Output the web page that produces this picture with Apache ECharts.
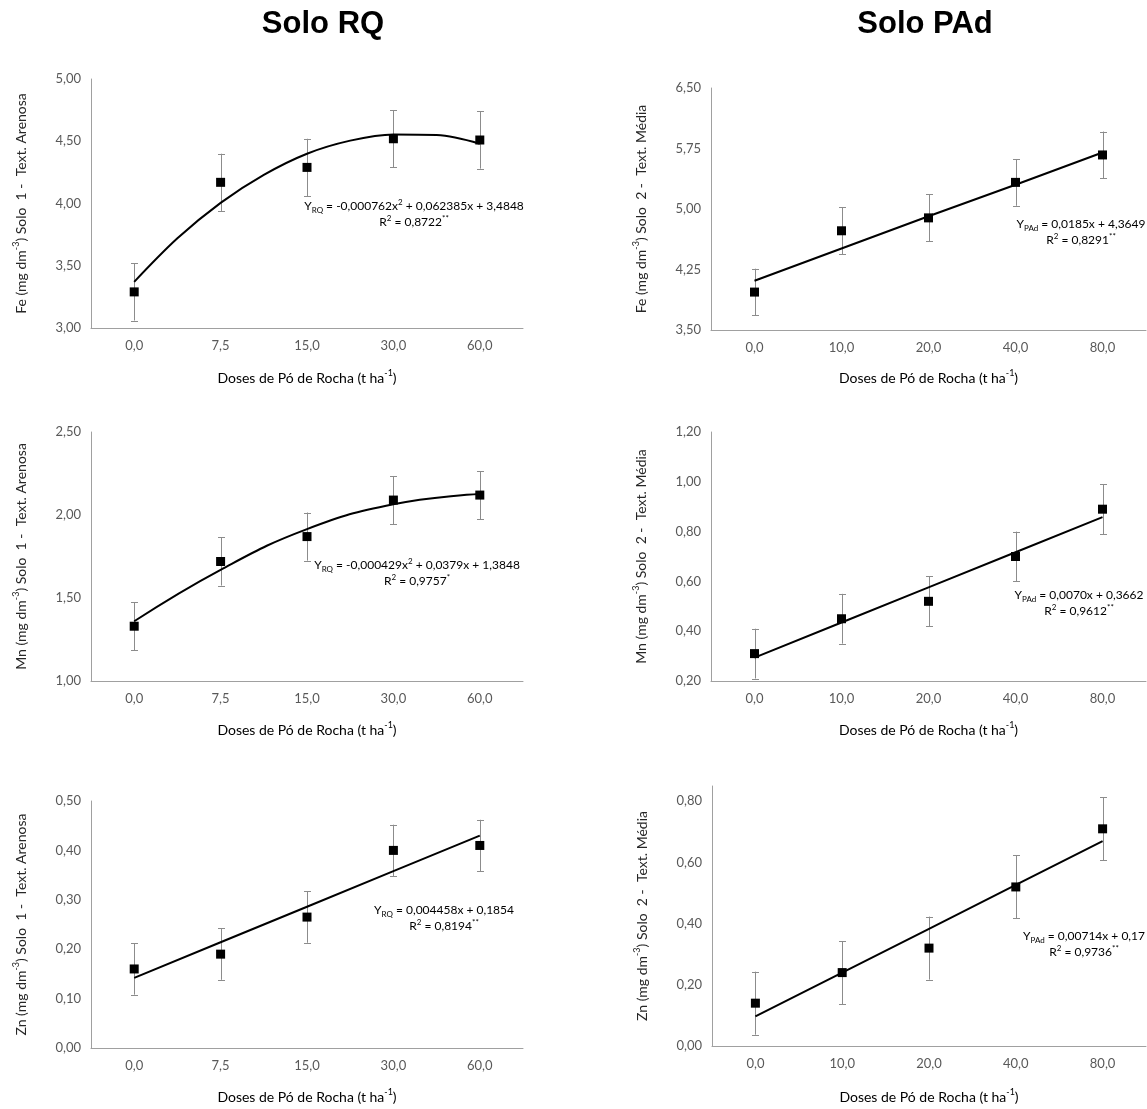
<!DOCTYPE html>
<html>
<head>
<meta charset="utf-8">
<script src="https://cdn.jsdelivr.net/npm/echarts@6/dist/echarts.min.js"></script>
<style>
html,body{margin:0;padding:0;background:#fff;}
#c{width:1147px;height:1109px;}
</style>
</head>
<body>
<div id="c"></div>
<script>
// ---- data ----
const catsRQ = ['0,0', '7,5', '15,0', '30,0', '60,0'];
const catsPAd = ['0,0', '10,0', '20,0', '40,0', '80,0'];

const feRQ = [3.29, 4.17, 4.29, 4.52, 4.51];
const feRQErr = [0.23, 0.23, 0.23, 0.23, 0.23];
// fitted curve read at half-category steps (category index 0 .. 4)
const feRQFitPos = [0, 0.5, 1, 1.5, 2, 2.5, 3, 3.5, 4];
const feRQFit = [3.37, 3.72, 4.005, 4.23, 4.40, 4.505, 4.555, 4.55, 4.48];

const fePAd = [3.97, 4.73, 4.89, 5.33, 5.67];
const fePAdErr = [0.29, 0.29, 0.29, 0.29, 0.29];
const fePAdFitPos = [0, 1, 2, 3, 4];
const fePAdFit = [4.11, 4.51, 4.91, 5.30, 5.70];

const mnRQ = [1.33, 1.72, 1.87, 2.09, 2.12];
const mnRQErr = [0.145, 0.145, 0.145, 0.145, 0.145];
const mnRQFitPos = [0, 1, 2, 3, 4];
const mnRQFit = [1.36, 1.67, 1.915, 2.065, 2.127];

const mnPAd = [0.31, 0.45, 0.52, 0.70, 0.89];
const mnPAdErr = [0.10, 0.10, 0.10, 0.10, 0.10];
const mnPAdFitPos = [0, 1, 2, 3, 4];
const mnPAdFit = [0.294, 0.435, 0.576, 0.717, 0.858];

const znRQ = [0.16, 0.19, 0.265, 0.40, 0.41];
const znRQErr = [0.052, 0.052, 0.052, 0.052, 0.052];
const znRQFitPos = [0, 1, 2, 3, 4];
const znRQFit = [0.142, 0.214, 0.286, 0.358, 0.430];

const znPAd = [0.14, 0.24, 0.32, 0.52, 0.71];
const znPAdErr = [0.103, 0.103, 0.103, 0.103, 0.103];
const znPAdFitPos = [0, 1, 2, 3, 4];
const znPAdFit = [0.097, 0.240, 0.383, 0.527, 0.670];

// ---- layout / styling ----
const FONT = 'Lato';
const AXIS_GRAY = '#a0a0a0';
const ERR_GRAY = '#8c8c8c';
const LABEL_GRAY = '#595959';

const panels = [
  {cats: catsRQ, v: feRQ, e: feRQErr, fx: feRQFitPos, f: feRQFit, smooth: 0.35, min: 3, max: 5, interval: 0.5, el: 'Fe', solo: '1', tex: 'Arenosa',
   grid: {left: 91, top: 79, width: 432, height: 249}, nameY: 378},
  {cats: catsPAd, v: fePAd, e: fePAdErr, fx: fePAdFitPos, f: fePAdFit, smooth: false, min: 3.5, max: 6.5, interval: 0.75, el: 'Fe', solo: '2', tex: 'Média',
   grid: {left: 711, top: 88, width: 435, height: 242}, nameY: 378},
  {cats: catsRQ, v: mnRQ, e: mnRQErr, fx: mnRQFitPos, f: mnRQFit, smooth: 0.45, min: 1, max: 2.5, interval: 0.5, el: 'Mn', solo: '1', tex: 'Arenosa',
   grid: {left: 91, top: 432, width: 432, height: 249}, nameY: 730},
  {cats: catsPAd, v: mnPAd, e: mnPAdErr, fx: mnPAdFitPos, f: mnPAdFit, smooth: false, min: 0.2, max: 1.2, interval: 0.2, el: 'Mn', solo: '2', tex: 'Média',
   grid: {left: 711, top: 432, width: 435, height: 249}, nameY: 730},
  {cats: catsRQ, v: znRQ, e: znRQErr, fx: znRQFitPos, f: znRQFit, smooth: false, min: 0, max: 0.5, interval: 0.1, el: 'Zn', solo: '1', tex: 'Arenosa',
   grid: {left: 91, top: 801, width: 432, height: 247}, nameY: 1097},
  {cats: catsPAd, v: znPAd, e: znPAdErr, fx: znPAdFitPos, f: znPAdFit, smooth: false, min: 0, max: 0.85, interval: 0.2, el: 'Zn', solo: '2', tex: 'Média',
   grid: {left: 712, top: 786, width: 434, height: 260}, nameY: 1097, hideMax: true}
];

const equations = [
  {sub: 'RQ', eq: ' = -0,000762x{sup|2} + 0,062385x + 3,4848', r2: '0,8722', sig: '**', x: 414, y: 206},
  {sub: 'PAd', eq: ' = 0,0185x + 4,3649', r2: '0,8291', sig: '**', x: 1081, y: 224},
  {sub: 'RQ', eq: ' = -0,000429x{sup|2} + 0,0379x + 1,3848', r2: '0,9757', sig: '*', x: 417, y: 565},
  {sub: 'PAd', eq: ' = 0,0070x + 0,3662', r2: '0,9612', sig: '**', x: 1079, y: 595},
  {sub: 'RQ', eq: ' = 0,004458x + 0,1854', r2: '0,8194', sig: '**', x: 444, y: 910},
  {sub: 'PAd', eq: ' = 0,00714x + 0,17', r2: '0,9736', sig: '**', x: 1084, y: 936}
];

const fmt = v => v.toFixed(2).replace('.', ',');

const TXT = '#262626';
const richEq = {
  a: {fontFamily: FONT, fontSize: 12, color: TXT, lineHeight: 16, verticalAlign: 'middle'},
  sup: {fontFamily: FONT, fontSize: 8, color: TXT, lineHeight: 8, verticalAlign: 'top'},
  sub: {fontFamily: FONT, fontSize: 8, color: TXT, lineHeight: 8, verticalAlign: 'bottom'}
};
const richName = {
  a: {fontFamily: FONT, fontSize: 14, color: TXT, lineHeight: 18, verticalAlign: 'middle'},
  sup: {fontFamily: FONT, fontSize: 9, color: TXT, lineHeight: 9, verticalAlign: 'top'}
};

const grids = [], xAxes = [], yAxes = [], series = [], graphics = [];

panels.forEach((p, i) => {
  grids.push(p.grid);
  xAxes.push({
    type: 'category', gridIndex: i, data: p.cats, boundaryGap: true,
    axisLine: {onZero: false, lineStyle: {color: AXIS_GRAY, width: 1}},
    axisTick: {show: false},
    axisLabel: {color: LABEL_GRAY, fontFamily: FONT, fontSize: 13, margin: 11},
    splitLine: {show: false}
  });
  xAxes.push({
    type: 'value', gridIndex: i, min: -0.5, max: p.cats.length - 0.5, show: false,
    axisLine: {show: false, onZero: false},
    splitLine: {show: false}
  });
  yAxes.push({
    type: 'value', gridIndex: i, min: p.min, max: p.max, interval: p.interval,
    axisLine: {show: true, onZero: false, lineStyle: {color: AXIS_GRAY, width: 1}},
    axisTick: {show: false},
    splitLine: {show: false},
    axisLabel: {color: LABEL_GRAY, fontFamily: FONT, fontSize: 13, margin: 10, formatter: fmt,
                showMaxLabel: p.hideMax ? false : true},
    name: '{a|' + p.el + ' (mg dm}{sup|-3}{a|) Solo  ' + p.solo + ' -  Text. ' + p.tex + '}',
    nameLocation: 'middle', nameGap: 61,
    nameTextStyle: {rich: richName}
  });
  graphics.push({
    type: 'text', x: p.grid.left + p.grid.width / 2, y: p.nameY,
    style: {
      text: '{a|Doses de Pó de Rocha (t ha}{sup|-1}{a|)}',
      rich: richName, align: 'center', verticalAlign: 'middle'
    }
  });
  series.push({
    type: 'custom', xAxisIndex: 2 * i, yAxisIndex: i, z: 1,
    data: p.v.map((v, k) => [k, v - p.e[k], v + p.e[k]]),
    renderItem: (params, api) => {
      const lo = api.coord([api.value(0), api.value(1)]);
      const hi = api.coord([api.value(0), api.value(2)]);
      const w = 3.5;
      const cx = Math.round(lo[0]) + 0.5;
      const st = {stroke: ERR_GRAY, lineWidth: 1};
      return {
        type: 'group',
        children: [
          {type: 'line', shape: {x1: cx, y1: lo[1], x2: cx, y2: hi[1]}, style: st},
          {type: 'line', shape: {x1: cx - w, y1: Math.round(lo[1]) + 0.5, x2: cx + w, y2: Math.round(lo[1]) + 0.5}, style: st},
          {type: 'line', shape: {x1: cx - w, y1: Math.round(hi[1]) + 0.5, x2: cx + w, y2: Math.round(hi[1]) + 0.5}, style: st}
        ]
      };
    }
  });
  series.push({
    type: 'line', xAxisIndex: 2 * i + 1, yAxisIndex: i, z: 2,
    data: p.fx.map((x, k) => [x, p.f[k]]),
    smooth: p.smooth,
    symbol: 'none', lineStyle: {color: '#000', width: 2}
  });
  series.push({
    type: 'scatter', xAxisIndex: 2 * i, yAxisIndex: i, data: p.v, z: 3,
    symbol: 'rect', symbolSize: 9, itemStyle: {color: '#000', opacity: 1}
  });
});

equations.forEach(q => {
  graphics.push({
    type: 'text', x: q.x, y: q.y - 8,
    style: {
      text: '{a|Y}{sub|' + q.sub + '}{a|' + q.eq.replace(/\{sup\|2\}/g, '}{sup|2}{a|') + '}\n' +
            '{a|R}{sup|2}{a| = ' + q.r2 + '}{sup|' + q.sig + '}',
      rich: richEq, align: 'center', verticalAlign: 'top'
    }
  });
});

graphics.push({type: 'text', x: 323, y: 24,
  style: {text: 'Solo RQ', fontFamily: 'Liberation Sans', fontWeight: 'bold', fontSize: 31, fill: '#000', align: 'center', verticalAlign: 'middle'}});
graphics.push({type: 'text', x: 925, y: 24,
  style: {text: 'Solo PAd', fontFamily: 'Liberation Sans', fontWeight: 'bold', fontSize: 31, fill: '#000', align: 'center', verticalAlign: 'middle'}});

const chart = echarts.init(document.getElementById('c'), null, {renderer: 'canvas'});
chart.setOption({
  backgroundColor: '#fff',
  animation: false,
  grid: grids,
  xAxis: xAxes,
  yAxis: yAxes,
  series: series,
  graphic: graphics
});
</script>
</body>
</html>
